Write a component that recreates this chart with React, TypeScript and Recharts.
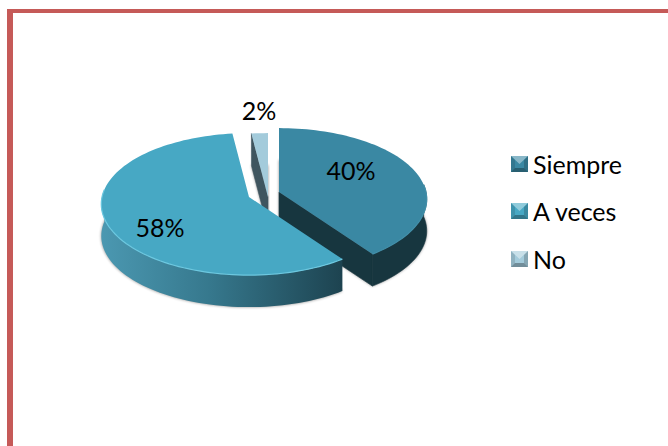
import React from "react"
import { PieChart, Pie, Legend } from "recharts"

const categories = ["Siempre", "A veces", "No"]
const values = [40, 58, 2]
const topColors = ["#3a88a3", "#47a8c4", "#a3cbdb"]

// pie is painted back to front, so "No" goes first and the start angle is turned back by its share
const drawOrder = [2, 0, 1]
const pieData = drawOrder.map((i) => ({ name: categories[i], value: values[i], fill: topColors[i] }))
const startAngle = 90 + (values[2] / 100) * 360

const sliceStyle: Record<string, any> = {
  Siempre: { dx: 15, dy: -3, labelDx: 72, labelDy: -22, wall: "#17363f", cut: "#17363f", rim: "#428fa9" },
  "A veces": { dx: -15, dy: 2, labelDx: -89, labelDy: 30, wall: "url(#wallAVeces)", cut: null, rim: "#6cc8e0" },
  No: { dx: 4, dy: 2, labelDx: -9, labelDy: -87, wall: "#3f555f", cut: "#3f555f", rim: null },
}

const FONT = "Lato, sans-serif"
const RY = 71
const PERSPECTIVE = 0.1
const DEPTH = 32

function project(cx: number, cy: number, rx: number, clockDeg: number, r = 1) {
  const t = (clockDeg * Math.PI) / 180
  const u = Math.sin(t) * r
  const v = -Math.cos(t) * r
  const s = 1 + PERSPECTIVE * v
  return [cx + rx * u * s, cy + RY * v * s]
}

function arc(cx: number, cy: number, rx: number, from: number, to: number) {
  const pts = []
  const steps = Math.max(2, Math.ceil(Math.abs(to - from) / 2))
  for (let i = 0; i <= steps; i++) pts.push(project(cx, cy, rx, from + ((to - from) * i) / steps))
  return pts
}

const toPath = (pts: number[][]) => "M" + pts.map((p) => p[0].toFixed(2) + " " + p[1].toFixed(2)).join("L") + "Z"

function Slice3D(props: any) {
  const { name, fill, outerRadius } = props
  const st = sliceStyle[name]
  const cx = props.cx + st.dx
  const cy = props.cy + st.dy
  // recharts angles run counter clockwise from 3 o'clock, here clockwise from 12
  const a = 90 - props.startAngle
  const b = 90 - props.endAngle
  const top = [[cx, cy], ...arc(cx, cy, outerRadius, a, b)]
  const bottom = top.map((p) => [p[0], p[1] + DEPTH])
  const wallFrom = Math.max(a, 84)
  const wallTo = Math.min(b, 276)
  let wall = null
  let rimLine = null
  if (wallTo > wallFrom) {
    const edge = arc(cx, cy, outerRadius, wallFrom, wallTo)
    const low = edge.map((p) => [p[0], p[1] + DEPTH]).reverse()
    wall = <path d={toPath([...edge, ...low])} fill={st.wall} stroke={st.cut || "none"} strokeWidth={0.6} />
    rimLine = (
      <path
        d={"M" + edge.map((p) => p[0].toFixed(2) + " " + p[1].toFixed(2)).join("L")}
        fill="none"
        stroke={st.rim}
        strokeWidth={1.2}
      />
    )
  }
  let cut = null
  if (st.cut) {
    const angle = name === "No" ? a : b
    const p = project(cx, cy, outerRadius, angle)
    cut = <path d={toPath([[cx, cy], p, [p[0], p[1] + DEPTH], [cx, cy + DEPTH]])} fill={st.cut} stroke={st.cut} strokeWidth={0.6} />
  }
  return (
    <g>
      <defs>
        <linearGradient id="wallAVeces" x1="0" y1="0" x2="1" y2="0">
          <stop offset="0" stopColor="#4b98b1" />
          <stop offset="0.45" stopColor="#36788d" />
          <stop offset="1" stopColor="#1d4350" />
        </linearGradient>
        <filter id="softShadow" x="-10%" y="-10%" width="120%" height="120%">
          <feGaussianBlur stdDeviation="1.6" />
        </filter>
      </defs>
      <path d={toPath(bottom)} fill="#000" opacity={0.45} filter="url(#softShadow)" />
      {cut}
      {wall}
      <path d={toPath(top)} fill={fill} />
      {rimLine}
    </g>
  )
}

function sliceLabel(props: any) {
  const st = sliceStyle[props.name]
  return (
    <text
      x={props.cx + st.dx + st.labelDx}
      y={props.cy + st.dy + st.labelDy}
      textAnchor="middle"
      dominantBaseline="central"
      fontFamily={FONT}
      fontSize={25}
      fill="#000"
    >
      {props.value}%
    </text>
  )
}

function LegendIcon({ color }: { color: string }) {
  return (
    <svg width={17} height={16} style={{ marginRight: 5, flex: "none" }}>
      <rect width={17} height={16} fill={color} />
      <polygon points="0,0 17,0 8.5,8" fill="#ffffff" opacity={0.4} />
      <polygon points="0,16 17,16 13,12 4,12" fill="#000000" opacity={0.3} />
      <polygon points="0,0 0,16 4,12 4,4" fill="#000000" opacity={0.12} />
      <polygon points="17,0 17,16 13,12 13,4" fill="#000000" opacity={0.18} />
    </svg>
  )
}

function LegendList({ payload }: any) {
  const items = [...(payload || [])].sort((p, q) => categories.indexOf(p.value) - categories.indexOf(q.value))
  return (
    <div>
      {items.map((item: any) => (
        <div
          key={item.value}
          style={{ display: "flex", alignItems: "center", height: 47.5, fontFamily: FONT, fontSize: 25, color: "#000" }}
        >
          <LegendIcon color={item.color} />
          <span>{item.value}</span>
        </div>
      ))}
    </div>
  )
}

export default function App() {
  return (
    <div style={{ position: "absolute", left: 0, top: 0, width: 668, height: 446, background: "#fff", overflow: "hidden" }}>
      <div
        style={{
          position: "absolute",
          left: 7,
          top: 9,
          right: 0,
          bottom: 0,
          borderLeft: "6px solid #c55a58",
          borderTop: "4px solid #c55a58",
        }}
      />
      <PieChart width={668} height={446} margin={{ top: 0, right: 0, bottom: 0, left: 0 }}>
        <Pie
          data={pieData}
          dataKey="value"
          nameKey="name"
          cx={264}
          cy={195}
          outerRadius={147}
          startAngle={startAngle}
          endAngle={startAngle - 360}
          stroke="none"
          shape={Slice3D}
          label={sliceLabel}
          labelLine={false}
          isAnimationActive={false}
        />
        <Legend
          content={<LegendList />}
          layout="vertical"
          wrapperStyle={{ left: 511, top: 140, width: 140, bottom: "auto", right: "auto" }}
        />
      </PieChart>
    </div>
  )
}
